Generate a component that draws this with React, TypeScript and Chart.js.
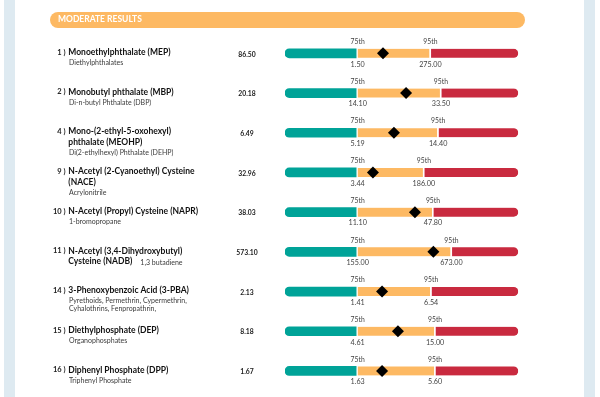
import React, { useEffect, useRef } from 'react';
import { Chart, registerables } from 'chart.js';

Chart.register(...registerables);

// ---------- data ----------
const sectionTitle = 'MODERATE RESULTS';
const rowNumbers = ['1', '2', '4', '9', '10', '11', '14', '15', '16'];
const compoundNames: string[][] = [
  ['Monoethylphthalate (MEP)'],
  ['Monobutyl phthalate (MBP)'],
  ['Mono-(2-ethyl-5-oxohexyl)', 'phthalate (MEOHP)'],
  ['N-Acetyl (2-Cyanoethyl) Cysteine', '(NACE)'],
  ['N-Acetyl (Propyl) Cysteine (NAPR)'],
  ['N-Acetyl (3,4-Dihydroxybutyl)', 'Cysteine (NADB)'],
  ['3-Phenoxybenzoic Acid (3-PBA)'],
  ['Diethylphosphate (DEP)'],
  ['Diphenyl Phosphate (DPP)'],
];
const parentCompounds: string[][] = [
  ['Diethylphthalates'],
  ['Di-n-butyl Phthalate (DBP)'],
  ['Di(2-ethylhexyl) Phthalate (DEHP)'],
  ['Acrylonitrile'],
  ['1-bromopropane'],
  ['1,3 butadiene'],
  ['Pyrethoids, Permethrin, Cypermethrin,', 'Cyhalothrins, Fenpropathrin,'],
  ['Organophosphates'],
  ['Triphenyl Phosphate'],
];
const parentInline = [false, false, false, false, false, true, false, false, false];
const resultValues = ['86.50', '20.18', '6.49', '32.96', '38.03', '573.10', '2.13', '8.18', '1.67'];
const p75Values = ['1.50', '14.10', '5.19', '3.44', '11.10', '155.00', '1.41', '4.61', '1.63'];
const p95Values = ['275.00', '33.50', '14.40', '186.00', '47.80', '673.00', '6.54', '15.00', '5.60'];
const p75Label = '75th';
const p95Label = '95th';
// positions on the gauge's 0-100 band scale
const p75Band = [30.5, 30.5, 30.5, 30.5, 30.5, 30.5, 30.5, 30.5, 30.5];
const p95Band = [61.9, 66.4, 65.2, 59.1, 63.0, 70.9, 62.2, 63.9, 63.9];
const resultBand = [42.0, 51.9, 46.7, 37.7, 55.7, 63.6, 41.6, 48.4, 41.6];

// ---------- style ----------
const TEAL = 'rgb(0,163,152)';
const ORANGE = 'rgb(253,185,99)';
const RED = 'rgb(201,42,63)';
const STRIP = 'rgb(222,234,241)';
const FONT = 'Lato, "Open Sans", sans-serif';

const decorPlugin = {
  id: 'decor',
  beforeDraw(chart: any) {
    const ctx = chart.ctx as CanvasRenderingContext2D;
    ctx.save();
    ctx.fillStyle = STRIP;
    ctx.fillRect(4, 0, 11, chart.height);
    ctx.fillRect(584, 0, 11, chart.height);
    ctx.fillStyle = ORANGE;
    ctx.beginPath();
    (ctx as any).roundRect(50, 12, 475, 16, 8);
    ctx.fill();
    ctx.fillStyle = '#fff';
    ctx.font = `bold 8.5px ${FONT}`;
    ctx.textBaseline = 'middle';
    ctx.textAlign = 'left';
    ctx.fillText(sectionTitle, 58, 19.5);
    ctx.restore();
  },
  afterDatasetsDraw(chart: any) {
    const ctx = chart.ctx as CanvasRenderingContext2D;
    const xs = chart.scales.x;
    const ys = chart.scales.y;
    ctx.save();
    ctx.textBaseline = 'middle';
    rowNumbers.forEach((num, i) => {
      const cy = ys.getPixelForValue(i);
      // row number
      ctx.textAlign = 'right';
      ctx.fillStyle = '#222';
      ctx.font = `bold 7.5px ${FONT}`;
      ctx.fillText(`${num} )`, 65.5, cy - 1);
      // names
      ctx.textAlign = 'left';
      ctx.fillStyle = '#111';
      ctx.font = `bold 8.5px ${FONT}`;
      const names = compoundNames[i];
      let ly = cy - 1;
      names.forEach((n, k) => {
        ctx.fillText(n, 68.3, cy - 1 + k * 10.8);
        ly = cy - 1 + k * 10.8;
      });
      ctx.fillStyle = '#3a3a3a';
      if (parentInline[i]) {
        const w = ctx.measureText(names[names.length - 1]).width;
        ctx.font = `7px ${FONT}`;
        ctx.fillText(parentCompounds[i][0], 68.3 + w + 8, ly + 0.8);
      } else {
        ctx.font = `7px ${FONT}`;
        parentCompounds[i].forEach((s, k) => {
          ctx.fillText(s, 69, ly + 10.3 + k * 7.5);
        });
      }
      // result value
      ctx.textAlign = 'center';
      ctx.fillStyle = '#1a1a1a';
      ctx.font = `bold 6.8px ${FONT}`;
      ctx.fillText(resultValues[i], 247, cy + 1);
      // percentile labels
      ctx.fillStyle = '#444';
      ctx.font = `6.8px ${FONT}`;
      const x75 = xs.getPixelForValue(p75Band[i]) + 1.5;
      const x95 = xs.getPixelForValue(p95Band[i]) + 1;
      ctx.fillText(p75Label, x75, cy - 11.5);
      ctx.fillText(p95Label, x95, cy - 11.5);
      ctx.font = `7.2px ${FONT}`;
      ctx.fillText(p75Values[i], x75, cy + 11);
      ctx.fillText(p95Values[i], x95, cy + 11);
    });
    ctx.restore();
  },
};

export default function App() {
  const ref = useRef<HTMLCanvasElement | null>(null);
  useEffect(() => {
    if (!ref.current) return;
    const labels = rowNumbers.map((_, i) => String(i));
    const chart = new Chart(ref.current, {
      type: 'bar',
      data: {
        labels,
        datasets: [
          {
            type: 'scatter',
            data: resultBand.map((v, i) => ({ x: v, y: labels[i] })),
            pointStyle: 'rectRot',
            radius: 6,
            backgroundColor: '#000',
            borderWidth: 0,
          } as any,
          {
            data: p75Band.map((v) => [0, v]),
            backgroundColor: TEAL,
            borderSkipped: false,
            borderWidth: 0,
            borderRadius: { topLeft: 4.5, bottomLeft: 4.5, topRight: 0, bottomRight: 0 },
            barThickness: 9,
            grouped: false,
          },
          {
            data: p95Band.map((v, i) => [p75Band[i], v]),
            backgroundColor: ORANGE,
            borderColor: '#fff',
            borderSkipped: false,
            borderWidth: { left: 2, top: 0, right: 0, bottom: 0 },
            barThickness: 9,
            grouped: false,
          },
          {
            data: p95Band.map((v) => [v, 100]),
            backgroundColor: RED,
            borderColor: '#fff',
            borderSkipped: false,
            borderWidth: { left: 2, top: 0, right: 0, bottom: 0 },
            borderRadius: { topLeft: 0, bottomLeft: 0, topRight: 4.5, bottomRight: 4.5 },
            barThickness: 9,
            grouped: false,
          },
        ] as any,
      },
      options: {
        indexAxis: 'y',
        responsive: false,
        animation: false,
        layout: { padding: { left: 285, right: 81.7, top: 33.5, bottom: 6.2 } },
        plugins: { legend: { display: false }, tooltip: { enabled: false } },
        scales: {
          x: { type: 'linear', min: 0, max: 100, display: false },
          y: { type: 'category', display: false, offset: true },
        },
      } as any,
      plugins: [decorPlugin],
    });
    return () => chart.destroy();
  }, []);
  return (
    <div style={{ position: 'absolute', left: 0, top: 0, width: 600, height: 397, background: '#fff' }}>
      <canvas ref={ref} width={600} height={397} />
    </div>
  );
}
